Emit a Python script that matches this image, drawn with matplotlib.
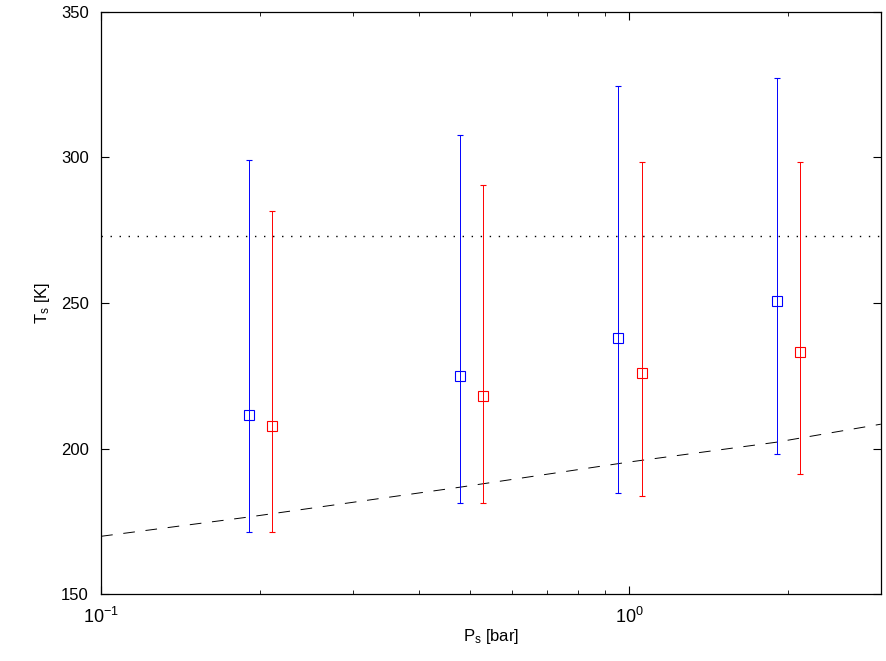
import matplotlib
matplotlib.use("Agg")
from matplotlib import pyplot as plt
from matplotlib.ticker import LogLocator, NullFormatter

plt.rcParams['font.family'] = ['Liberation Sans', 'DejaVu Sans']
plt.rcParams['mathtext.fontset'] = 'custom'
plt.rcParams['mathtext.rm'] = 'Liberation Sans'
plt.rcParams['mathtext.it'] = 'Liberation Sans'

# surface pressure [bar] and temperature [K], first set (blue)
p_blue = [0.191, 0.479, 0.953, 1.91]
t_blue = [211.5, 224.9, 238.0, 250.7]
t_blue_hi = [299.0, 307.7, 324.6, 327.3]
t_blue_lo = [171.3, 181.3, 184.7, 198.1]

# second set (red)
p_red = [0.211, 0.53, 1.06, 2.11]
t_red = [207.7, 218.0, 226.0, 233.2]
t_red_hi = [281.6, 290.5, 298.5, 298.5]
t_red_lo = [171.3, 181.3, 183.7, 191.2]

# condensation curve (dashed) and freezing point (dotted)
p_cond = [0.1, 0.19, 0.48, 1.0, 1.9, 3.0]
t_cond = [169.9, 176.5, 186.8, 195.4, 202.2, 208.4]
t_freeze = 273.15

fig = plt.figure(figsize=(8.87, 6.61), dpi=100)
ax = fig.add_axes([0.114, 0.101, 0.879, 0.881])

ax.plot([0.1, 3.0], [t_freeze, t_freeze], color='black', linestyle=(0, (1, 5.5)), linewidth=1.0)
ax.plot(p_cond, t_cond, color='black', linestyle=(0, (12, 11)), linewidth=0.7)

err_b = [[t - lo for t, lo in zip(t_blue, t_blue_lo)], [hi - t for t, hi in zip(t_blue, t_blue_hi)]]
err_r = [[t - lo for t, lo in zip(t_red, t_red_lo)], [hi - t for t, hi in zip(t_red, t_red_hi)]]

ax.errorbar(p_blue, t_blue, yerr=err_b, fmt='s', color='blue', mfc='none', ms=7,
            mew=0.8, elinewidth=0.7, capsize=2, capthick=0.8)
ax.errorbar(p_red, t_red, yerr=err_r, fmt='s', color='red', mfc='none', ms=7,
            mew=0.8, elinewidth=0.7, capsize=2, capthick=0.8)

ax.set_xscale('log')
ax.set_xlim(0.1, 3.0)
ax.set_ylim(150, 350)
ax.set_yticks([150, 200, 250, 300, 350])
ax.xaxis.set_major_locator(LogLocator(base=10))
ax.xaxis.set_minor_locator(LogLocator(base=10, subs=range(2, 10)))
ax.xaxis.set_minor_formatter(NullFormatter())

ax.tick_params(which='both', direction='in', top=True, right=True, labelsize=12)
ax.tick_params(axis='x', which='major', pad=9, labelsize=13)
ax.tick_params(axis='y', which='major', pad=9)
ax.tick_params(which='major', length=6, width=0.8)
ax.tick_params(which='minor', length=3, width=0.6)
for s in ax.spines.values():
    s.set_linewidth(0.9)

ax.set_xlabel("P$_\\mathrm{s}$ [bar]", fontsize=12, labelpad=0)
ax.set_ylabel("T$_\\mathrm{s}$ [K]", fontsize=12, labelpad=6)

fig.savefig("out.png", dpi=100)
